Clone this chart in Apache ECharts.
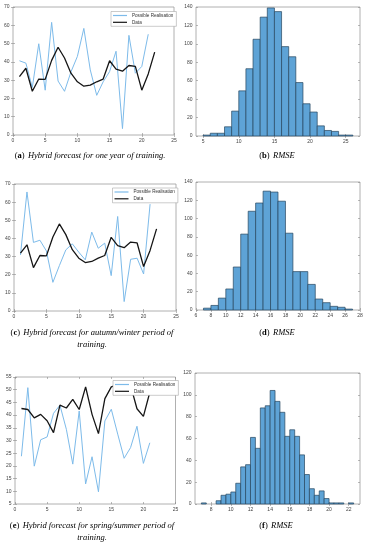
<!DOCTYPE html>
<html><head><meta charset="utf-8">
<script src="https://cdn.jsdelivr.net/npm/echarts@6/dist/echarts.min.js"></script>
<style>html,body{margin:0;padding:0;background:#fff}#c{width:368px;height:550px}</style>
</head><body><div id="c"></div>
<script>
// ---- data ----
const stepX = [1,2,3,4,5,6,7,8,9,10,11,12,13,14,15,16,17,18,19,20,21,22];
const aRealisation = [40.6,39.3,26,49.9,24.5,61.6,29.5,23.9,34.5,43,58.3,35.6,21.7,29.1,34.7,45.8,3.5,54.5,33.8,37.5,55.1];
const aData = [31.9,36.5,23.9,30.6,30.4,40.8,48,42.1,33.8,29.1,26.7,27.3,29.1,30.6,40.6,36,34.9,38,37.5,24.5,33.4,45.3];
const cRealisation = [30.9,65.6,37.8,39,33.1,15.8,25,33.7,37,32.4,28.2,43.5,34.6,37.4,19.5,52.1,5.2,28.5,29.1,20.4,58.9];
const cData = [31.9,36.5,23.9,30.6,30.4,40.8,48,42.1,33.8,29.1,26.7,27.3,29.1,30.6,40.6,36,34.9,38,37.5,24.5,33.4,45.3];
const eRealisation = [23.8,50.8,19.9,30.3,31.4,40.7,43.9,34.4,20.7,41.6,12.9,23.6,9.8,37.7,42.3,32.5,23,27.2,35.6,21,29.1];
const eData = [42.6,42.2,38.9,40.3,37.8,33.1,43.9,42.8,46.2,42.2,51.1,40.3,32.7,46.5,51.1,52,52.5,51.7,42.5,39.5,49];

const bBinLeft = [5,6,7,8,9,10,11,12,13,14,15,16,17,18,19,20,21,22,23,24,25];
const bCounts  = [1,3,3,10,27,49,73,105,129,139,135,97,86,58,35,26,11,6,5,1,1];
const bBinWidth = 1;
const dBinLeft = [7,8,9,10,11,12,13,14,15,16,17,18,19,20,21,22,23,24,25,26];
const dCounts  = [2,5,13,23,47,83,108,117,130,129,119,84,42,42,28,12,8,4,3,1];
const dBinWidth = 1;
const fBinLeft = [7,8.5,9,9.5,10,10.5,11,11.5,12,12.5,13,13.5,14,14.5,15,15.5,16,16.5,17,17.5,18,18.5,19,19.5,20,20.5,21,22];
const fCounts  = [1,3,8,9,11,19,34,36,61,51,88,90,104,94,84,62,68,62,45,27,14,8,12,5,1,1,1,1];
const fBinWidth = 0.5;

const bXTicks = [5,10,15,20,25];
const fXTicks = [8,10,12,14,16,18,20,22];

// ---- styling ----
const FONT = 'Liberation Sans, Arial, sans-serif';
const BLUE = '#7dbbea', BLACK = '#151515';
const BAR_FILL = '#5ea3d6', BAR_EDGE = '#27465f';

const grids = [
  {left:13,  top:7,   width:161,   height:128},
  {left:196, top:7,   width:164,   height:129},
  {left:14,  top:184, width:162,   height:127},
  {left:196, top:182, width:164,   height:128},
  {left:15,  top:377, width:160.5, height:127},
  {left:195, top:373, width:165,   height:131}
].map(g => Object.assign(g, {show:true, borderColor:'#9c9c9c', borderWidth:0.8, backgroundColor:'#fff'}));

const xRanges = [
  {min:0, max:25, interval:5},
  {min:4, max:27, ticks:bXTicks},
  {min:0, max:25, interval:5},
  {min:6, max:28, interval:2},
  {min:0, max:25, interval:5},
  {min:6.35, max:23.15, ticks:fXTicks}
];
const yRanges = [
  {min:0, max:70, interval:10},
  {min:0, max:140, interval:20},
  {min:0, max:70, interval:10},
  {min:0, max:140, interval:20},
  {min:5, max:55, interval:5},
  {min:0, max:120, interval:20}
];

function makeAxis(dim, gi, r, mirror) {
  const ax = {
    type:'value', gridIndex:gi,
    position: dim === 'x' ? (mirror ? 'top' : 'bottom') : (mirror ? 'right' : 'left'),
    min:r.min, max:r.max,
    splitLine:{show:false},
    axisLine:{show:false},
    axisTick:{show:true, inside:true, length:2, lineStyle:{color:'#8a8a8a', width:0.6}},
    axisLabel:{show:!mirror, fontSize:5, color:'#444', fontFamily:FONT, margin: dim==='x'?3:3.5,
               showMinLabel:true, showMaxLabel:true}
  };
  if (r.interval) ax.interval = r.interval;
  if (r.ticks) { ax.axisTick.customValues = r.ticks; ax.axisLabel.customValues = r.ticks; }
  return ax;
}
const xAxis = [], yAxis = [];
for (let i = 0; i < 6; i++) {
  xAxis.push(makeAxis('x', i, xRanges[i], false), makeAxis('x', i, xRanges[i], true));
  yAxis.push(makeAxis('y', i, yRanges[i], false), makeAxis('y', i, yRanges[i], true));
}

function lineSeries(name, gi, vals, color, width) {
  return {
    type:'line', name, xAxisIndex:2*gi, yAxisIndex:2*gi,
    data: vals.map((v, i) => [stepX[i], v]),
    symbol:'none', silent:true, animation:false,
    lineStyle:{color, width}, itemStyle:{color}, z:2
  };
}
function histSeries(gi, lefts, counts, w) {
  return {
    type:'custom', xAxisIndex:2*gi, yAxisIndex:2*gi, animation:false, silent:true,
    data: lefts.map((l, i) => [l, l + w, counts[i]]),
    encode:{x:[0,1], y:2},
    renderItem(params, api) {
      const p0 = api.coord([api.value(0), api.value(2)]);
      const p1 = api.coord([api.value(1), 0]);
      return {type:'rect', shape:{x:p0[0], y:p0[1], width:p1[0]-p0[0], height:p1[1]-p0[1]},
              style:{fill:BAR_FILL, stroke:BAR_EDGE, lineWidth:0.7}};
    }
  };
}

const series = [
  lineSeries('Possible Realisation', 0, aRealisation, BLUE, 1),
  lineSeries('Data', 0, aData, BLACK, 1.3),
  histSeries(1, bBinLeft, bCounts, bBinWidth),
  lineSeries('Possible Realisation', 2, cRealisation, BLUE, 1),
  lineSeries('Data', 2, cData, BLACK, 1.3),
  histSeries(3, dBinLeft, dCounts, dBinWidth),
  lineSeries('Possible Realisation', 4, eRealisation, BLUE, 1),
  lineSeries('Data', 4, eData, BLACK, 1.3),
  histSeries(5, fBinLeft, fCounts, fBinWidth)
];

function legendAt(left, top) {
  return {
    left, top, orient:'vertical', data:['Possible Realisation','Data'],
    selectedMode:false, icon:'rect', itemWidth:14, itemHeight:1.2, itemGap:1.8,
    padding:[1.5,3,1.5,2], backgroundColor:'#fff', borderColor:'#a8a8a8', borderWidth:0.6,
    textStyle:{fontSize:4.6, color:'#333', fontFamily:FONT}
  };
}
const legend = [legendAt(111, 11.5), legendAt(112.5, 188), legendAt(113, 380.5)];

const capRich = {
  p:{fontFamily:'Liberation Serif, serif', fontSize:8.5, color:'#222'},
  b:{fontFamily:'Liberation Serif, serif', fontSize:8.5, fontWeight:'bold', color:'#222'},
  i:{fontFamily:'Liberation Serif, serif', fontSize:8.5, fontStyle:'italic', color:'#222'}
};
function caption(x, y, letter, text) {
  return {type:'text', x, y, silent:true,
    style:{text:'{p|(}{b|' + letter + '}{p|)} {i|' + text + '}', rich:capRich, align:'center', verticalAlign:'middle'}};
}
function plainCap(x, y, text) {
  return {type:'text', x, y, silent:true,
    style:{text:'{i|' + text + '}', rich:capRich, align:'center', verticalAlign:'middle'}};
}
const graphic = [
  caption(90, 156, 'a', 'Hybrid forecast for one year of training.'),
  caption(277, 156, 'b', 'RMSE'),
  caption(92, 333, 'c', 'Hybrid forecast for autumn/winter period of'),
  plainCap(92, 344.5, 'training.'),
  caption(277, 333, 'd', 'RMSE'),
  caption(92, 526, 'e', 'Hybrid forecast for spring/summer period of'),
  plainCap(92, 538, 'training.'),
  caption(276, 525.5, 'f', 'RMSE')
];

const chart = echarts.init(document.getElementById('c'), null, {renderer:'canvas'});
chart.setOption({animation:false, backgroundColor:'#fff', grid:grids, xAxis, yAxis, series, legend, graphic});
</script></body></html>
